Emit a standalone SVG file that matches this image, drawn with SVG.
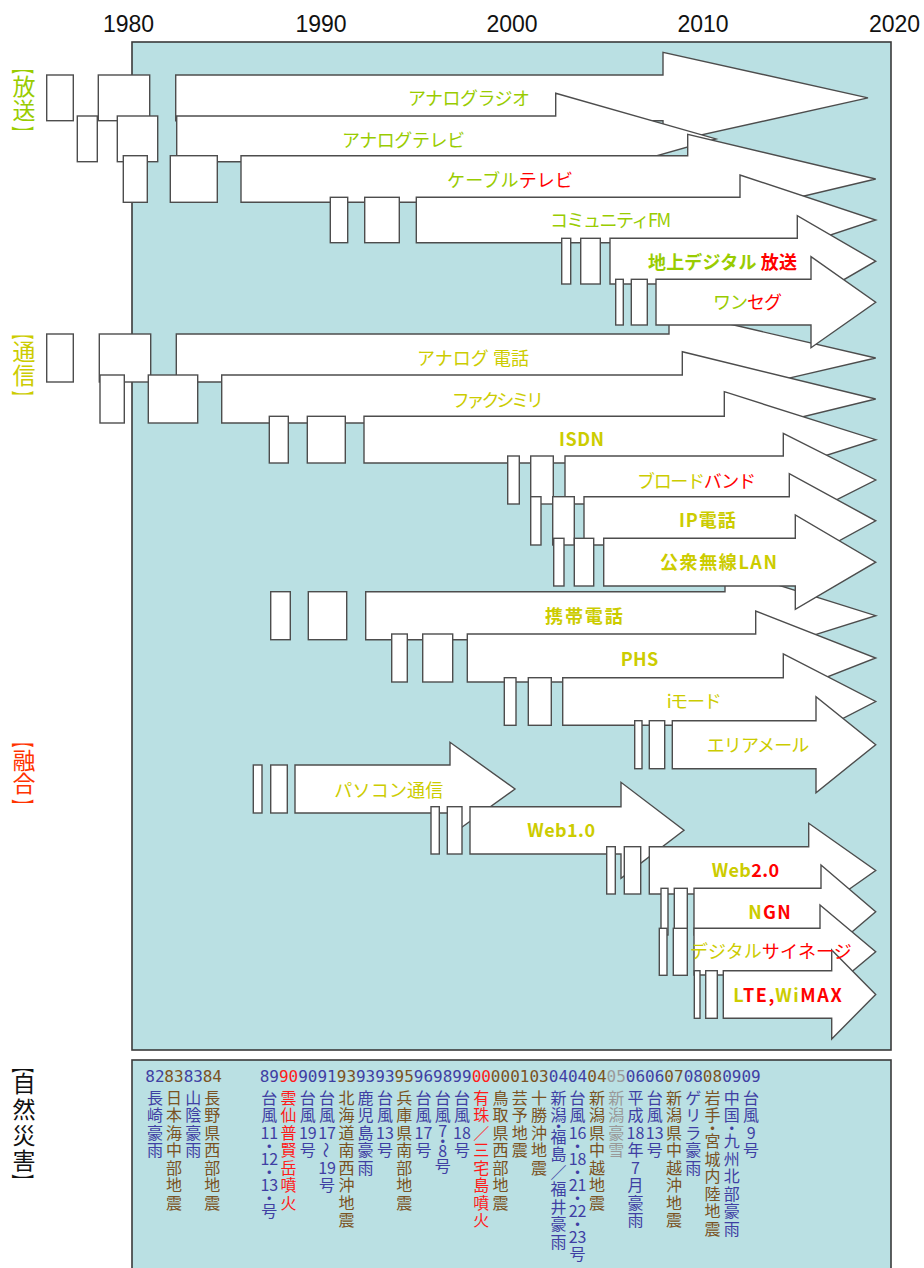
<svg xmlns="http://www.w3.org/2000/svg" width="924" height="1268" viewBox="0 0 924 1268">
<style>
.ar{fill:#fff;stroke:#4d4d4d;stroke-width:1.4}
.pn{fill:#bae0e3;stroke:#3a3a3a;stroke-width:1.6}
.lb{font-family:"Noto Sans CJK JP",sans-serif;font-size:18px}
.bd{font-weight:bold}
.g{fill:#99cc00}.y{fill:#cccc00}.r{fill:#ff0000}.o{fill:#ff3300}.k{fill:#111}
.d{font-family:"Noto Sans CJK JP",sans-serif;font-size:16px;text-anchor:middle}
.rot{font-family:"Noto Sans CJK JP",sans-serif;font-size:16px;text-anchor:middle;dominant-baseline:central}
.cb{fill:#3f3fa3}.cn{fill:#7a5222}.cr{fill:#ff1a1a}.cg{fill:#999999}
.yr{font-family:"DejaVu Sans Mono",monospace;font-size:16px;text-anchor:middle}
.yl{font-family:"Liberation Sans",Arial,sans-serif;font-size:23px;text-anchor:middle;fill:#111}
.vk{font-family:"Noto Sans CJK JP",sans-serif;font-size:23px;text-anchor:middle}
.br{font-family:"Noto Sans CJK JP",sans-serif;font-size:20px;text-anchor:middle;dominant-baseline:central}
</style>
<rect width="924" height="1268" fill="#fff"/>
<g id="years">
<text class="yl" x="128.5" y="32">1980</text>
<text class="yl" x="321" y="32">1990</text>
<text class="yl" x="512" y="32">2000</text>
<text class="yl" x="703" y="32">2010</text>
<text class="yl" x="894.5" y="32">2020</text>
</g>
<rect id="panel-main" class="pn" x="132" y="42" width="759" height="1008"/>
<rect id="panel-disaster" class="pn" x="132" y="1060" width="759" height="220"/>
<g id="section-labels">
<g id="lbl-housou" class="g">
<text class="br" transform="translate(24,68) rotate(90) scale(0.6,1.15)">【</text>
<text class="vk" x="24" y="94.5">放</text>
<text class="vk" x="24" y="118.5">送</text>
<text class="br" transform="translate(24,132) rotate(90) scale(0.6,1.15)">】</text>
</g>
<g id="lbl-tsushin" class="y">
<text class="br" transform="translate(24,333.5) rotate(90) scale(0.6,1.15)">【</text>
<text class="vk" x="24" y="359.5">通</text>
<text class="vk" x="24" y="383.5">信</text>
<text class="br" transform="translate(24,396.5) rotate(90) scale(0.6,1.15)">】</text>
</g>
<g id="lbl-yugo" class="o">
<text class="br" transform="translate(24,741.5) rotate(90) scale(0.6,1.15)">【</text>
<text class="vk" x="24" y="768.5">融</text>
<text class="vk" x="24" y="791.5">合</text>
<text class="br" transform="translate(24,805) rotate(90) scale(0.6,1.15)">】</text>
</g>
<g id="lbl-saigai" class="k">
<text class="br" transform="translate(24,1067) rotate(90) scale(0.6,1.15)">【</text>
<text class="vk" x="24" y="1092">自</text>
<text class="vk" x="24" y="1118">然</text>
<text class="vk" x="24" y="1144">災</text>
<text class="vk" x="24" y="1169">害</text>
<text class="br" transform="translate(24,1180) rotate(90) scale(0.6,1.15)">】</text>
</g>
</g>
<g id="fusion">
<g id="f1"><rect class="ar" x="253.3" y="765" width="8.7" height="48"/><rect class="ar" x="270.7" y="765" width="16.6" height="48"/><polygon class="ar" points="295,765 450,765 450,742.3 515,789 450,835.7 450,813 295,813"/></g>
<g id="f2"><rect class="ar" x="431" y="806.7" width="8.3" height="47.3"/><rect class="ar" x="447.3" y="806.7" width="14.7" height="47.3"/><polygon class="ar" points="470,806.7 621,806.7 621,782.3 684,830.3 621,878.3 621,854 470,854"/></g>
<g id="f3"><rect class="ar" x="606.7" y="846.7" width="8.6" height="47.3"/><rect class="ar" x="624.3" y="846.7" width="16.4" height="47.3"/><polygon class="ar" points="649.3,846.7 808.7,846.7 808.7,823.3 875.7,870.5 808.7,917.7 808.7,894 649.3,894"/></g>
<g id="f4"><rect class="ar" x="661" y="888.3" width="7" height="46.7"/><rect class="ar" x="674.3" y="888.3" width="13" height="46.7"/><polygon class="ar" points="694,888.3 821,888.3 821,865 875.7,911.7 821,958.3 821,935 694,935"/></g>
<g id="f5"><rect class="ar" x="659.3" y="928.3" width="7.7" height="47"/><rect class="ar" x="673.3" y="928.3" width="14" height="47"/><polygon class="ar" points="694,928.3 820,928.3 820,905 875.7,951.7 820,998.3 820,975 694,975"/></g>
<g id="f6"><rect class="ar" x="694.3" y="970.7" width="5.7" height="47.6"/><rect class="ar" x="705.7" y="970.7" width="11.6" height="47.6"/><polygon class="ar" points="723.3,970.7 831.7,970.7 831.7,950 875.7,994.5 831.7,1039 831.7,1018.3 723.3,1018.3"/></g>
</g>
<g id="mobile">
<g id="m1"><rect class="ar" x="270.7" y="591.7" width="19.6" height="48"/><rect class="ar" x="308.3" y="591.7" width="38.4" height="48"/><polygon class="ar" points="365.7,591.7 725,591.7 725,568.3 875.7,615.7 725,663 725,639.7 365.7,639.7"/></g>
<g id="m2"><rect class="ar" x="391.7" y="634" width="15.6" height="48"/><rect class="ar" x="422.7" y="634" width="30" height="48"/><polygon class="ar" points="467.3,634 755.7,634 755.7,611 875.7,658 755.7,705 755.7,682 467.3,682"/></g>
<g id="m3"><rect class="ar" x="504.3" y="677.7" width="11.7" height="47.6"/><rect class="ar" x="528.3" y="677.7" width="23" height="47.6"/><polygon class="ar" points="562.7,677.7 783.3,677.7 783.3,654 875.7,701.5 783.3,749 783.3,725.3 562.7,725.3"/></g>
<g id="m4"><rect class="ar" x="634.7" y="720.7" width="7.3" height="48"/><rect class="ar" x="649.3" y="720.7" width="15.4" height="48"/><polygon class="ar" points="672.3,720.7 816,720.7 816,696.7 875.7,744.7 816,792.7 816,768.7 672.3,768.7"/></g>
</g>
<g id="fixed">
<g id="c1"><rect class="ar" x="46.7" y="334" width="26.6" height="48"/><rect class="ar" x="99.3" y="334" width="51.4" height="48"/><polygon class="ar" points="176.3,334 669,334 669,310 875.7,358 669,406 669,382 176.3,382"/></g>
<g id="c2"><rect class="ar" x="100" y="375" width="24.3" height="48"/><rect class="ar" x="148.3" y="375" width="49.4" height="48"/><polygon class="ar" points="221.7,375 682.3,375 682.3,351.7 875.7,399 682.3,446.3 682.3,423 221.7,423"/></g>
<g id="c3"><rect class="ar" x="269.3" y="416.3" width="19" height="46.7"/><rect class="ar" x="307.3" y="416.3" width="38" height="46.7"/><polygon class="ar" points="364,416.3 724.3,416.3 724.3,391.7 875.7,439.7 724.3,487.7 724.3,463 364,463"/></g>
<g id="c4"><rect class="ar" x="507.7" y="456" width="11.6" height="48"/><rect class="ar" x="530.7" y="456" width="22.6" height="48"/><polygon class="ar" points="565,456 783.3,456 783.3,433.3 875.7,480 783.3,526.7 783.3,504 565,504"/></g>
<g id="c5"><rect class="ar" x="530.7" y="496.7" width="10.3" height="48.3"/><rect class="ar" x="552.7" y="496.7" width="21.6" height="48.3"/><polygon class="ar" points="584,496.7 789.3,496.7 789.3,473.7 875.7,520.8 789.3,568 789.3,545 584,545"/></g>
<g id="c6"><rect class="ar" x="553.7" y="538.3" width="10.3" height="47.7"/><rect class="ar" x="574.3" y="538.3" width="19.4" height="47.7"/><polygon class="ar" points="603.7,538.3 795.3,538.3 795.3,515 875.7,562.2 795.3,609.3 795.3,586 603.7,586"/></g>
</g>
<g id="broadcast">
<g id="b1"><rect class="ar" x="46.7" y="75" width="26.6" height="45.7"/><rect class="ar" x="98.3" y="75" width="51.4" height="45.7"/><polygon class="ar" points="175.7,75 663,75 663,52.3 868,97.9 663,143.5 663,120.7 175.7,120.7"/></g>
<g id="b2"><rect class="ar" x="77.3" y="116" width="20" height="45.7"/><rect class="ar" x="117.3" y="116" width="40.4" height="45.7"/><polygon class="ar" points="176.7,116 555.7,116 555.7,93.3 716,138.9 555.7,184.4 555.7,161.7 176.7,161.7"/></g>
<g id="b3"><rect class="ar" x="123.3" y="155.7" width="24" height="46.6"/><rect class="ar" x="170.3" y="155.7" width="47" height="46.6"/><polygon class="ar" points="241,155.7 687.7,155.7 687.7,134.3 875.7,179 687.7,223.7 687.7,202.3 241,202.3"/></g>
<g id="b4"><rect class="ar" x="330.3" y="197.3" width="17.4" height="45.4"/><rect class="ar" x="364.7" y="197.3" width="34.6" height="45.4"/><polygon class="ar" points="416.3,197.3 740,197.3 740,175 875.7,220 740,265 740,242.7 416.3,242.7"/></g>
<g id="b5"><rect class="ar" x="561.7" y="238.3" width="9" height="45.7"/><rect class="ar" x="580.7" y="238.3" width="19.6" height="45.7"/><polygon class="ar" points="610,238.3 797.3,238.3 797.3,215.7 875.7,261.2 797.3,306.7 797.3,284 610,284"/></g>
<g id="b6"><rect class="ar" x="615.7" y="279.3" width="7.6" height="45.7"/><rect class="ar" x="631.3" y="279.3" width="16" height="45.7"/><polygon class="ar" points="656,279.3 811,279.3 811,256.7 875.7,302.2 811,347.7 811,325 656,325"/></g>
</g>
<g id="labels">
<text class="lb g" x="408" y="104.6" textLength="122">アナログラジオ</text>
<text class="lb g" x="342" y="146.6" textLength="123">アナログテレビ</text>
<text class="lb" x="447" y="186.6" textLength="126"><tspan class="g">ケーブル</tspan><tspan class="r">テレビ</tspan></text>
<text class="lb g" x="550" y="226.6" textLength="121">コミュニティFM</text>
<text class="lb bd" x="648" y="268.6" textLength="149"><tspan class="g">地上デジタル </tspan><tspan class="r">放送</tspan></text>
<text class="lb" x="713" y="309.3" textLength="69"><tspan class="g">ワン</tspan><tspan class="r">セグ</tspan></text>
<text class="lb y" x="417" y="364.6" textLength="112">アナログ 電話</text>
<text class="lb y" x="451.7" y="406.6" textLength="92.3">ファクシミリ</text>
<text class="lb bd y" x="559" y="446.1" textLength="45">ISDN</text>
<text class="lb" x="637" y="487.6" textLength="119"><tspan class="y">ブロード</tspan><tspan class="r">バンド</tspan></text>
<text class="lb bd y" x="679" y="527.3" textLength="56.7">IP電話</text>
<text class="lb bd y" x="660" y="568.9" textLength="117">公衆無線LAN</text>
<text class="lb bd y" x="545" y="623.3" textLength="77.7">携帯電話</text>
<text class="lb bd y" x="620.7" y="665.6" textLength="37.6">PHS</text>
<text class="lb y" x="666.7" y="708.3" textLength="55">iモード</text>
<text class="lb y" x="706.7" y="752.3" textLength="102.6">エリアメール</text>
<text class="lb y" x="334.3" y="796.6" textLength="109">パソコン通信</text>
<text class="lb bd y" x="527.3" y="837.3" textLength="67.7">Web1.0</text>
<text class="lb bd" x="711.7" y="877.3" textLength="67.3"><tspan class="y">Web</tspan><tspan class="r">2.0</tspan></text>
<text class="lb bd" x="748.3" y="918.9" textLength="42.4"><tspan class="y">N</tspan><tspan class="r">GN</tspan></text>
<text class="lb" x="690" y="958.3" textLength="161.7"><tspan class="y">デジタル</tspan><tspan class="r">サイネージ</tspan></text>
<text class="lb bd" x="733.3" y="1001.6" textLength="108.4"><tspan class="y">L</tspan><tspan class="r">TE,</tspan><tspan class="y">Wi</tspan><tspan class="r">MAX</tspan></text>
</g>
<g id="disasters">
<text class="yr" y="1081.5"><tspan class="cb" x="155">82</tspan><tspan class="cn" x="174">83</tspan><tspan class="cb" x="193.3">83</tspan><tspan class="cn" x="212.3">84</tspan><tspan class="cb" x="269.3">89</tspan><tspan class="cr" x="288.6">90</tspan><tspan class="cb" x="307.8">90</tspan><tspan class="cb" x="327.1">91</tspan><tspan class="cn" x="346.4">93</tspan><tspan class="cb" x="365.6">93</tspan><tspan class="cb" x="384.9">93</tspan><tspan class="cn" x="404.2">95</tspan><tspan class="cb" x="423.5">96</tspan><tspan class="cb" x="442.7">98</tspan><tspan class="cb" x="462">99</tspan><tspan class="cr" x="481.3">00</tspan><tspan class="cn" x="500.5">00</tspan><tspan class="cn" x="519.8">01</tspan><tspan class="cn" x="539.1">03</tspan><tspan class="cb" x="558.4">04</tspan><tspan class="cb" x="577.6">04</tspan><tspan class="cn" x="596.9">04</tspan><tspan class="cg" x="616.2">05</tspan><tspan class="cb" x="635.4">06</tspan><tspan class="cb" x="654.7">06</tspan><tspan class="cn" x="674">07</tspan><tspan class="cb" x="693.3">08</tspan><tspan class="cn" x="712.5">08</tspan><tspan class="cb" x="731.8">09</tspan><tspan class="cb" x="751.1">09</tspan></text>
<text class="d cb"><tspan x="155" y="1103.5">長</tspan><tspan x="155" y="1121">崎</tspan><tspan x="155" y="1138.5">豪</tspan><tspan x="155" y="1156">雨</tspan></text>
<text class="d cn"><tspan x="174" y="1103.5">日</tspan><tspan x="174" y="1121">本</tspan><tspan x="174" y="1138.5">海</tspan><tspan x="174" y="1156">中</tspan><tspan x="174" y="1173.5">部</tspan><tspan x="174" y="1191">地</tspan><tspan x="174" y="1208.5">震</tspan></text>
<text class="d cb"><tspan x="193.3" y="1103.5">山</tspan><tspan x="193.3" y="1121">陰</tspan><tspan x="193.3" y="1138.5">豪</tspan><tspan x="193.3" y="1156">雨</tspan></text>
<text class="d cn"><tspan x="212.3" y="1103.5">長</tspan><tspan x="212.3" y="1121">野</tspan><tspan x="212.3" y="1138.5">県</tspan><tspan x="212.3" y="1156">西</tspan><tspan x="212.3" y="1173.5">部</tspan><tspan x="212.3" y="1191">地</tspan><tspan x="212.3" y="1208.5">震</tspan></text>
<text class="d cb"><tspan x="269.3" y="1103.5">台</tspan><tspan x="269.3" y="1121">風</tspan><tspan x="269.3" y="1138.5">11</tspan><tspan x="269.3" y="1151.5">・</tspan><tspan x="269.3" y="1164.5">12</tspan><tspan x="269.3" y="1177.5">・</tspan><tspan x="269.3" y="1190.5">13</tspan><tspan x="269.3" y="1203.5">・</tspan><tspan x="269.3" y="1216.5">号</tspan></text>
<text class="d cr"><tspan x="288.6" y="1103.5">雲</tspan><tspan x="288.6" y="1121">仙</tspan><tspan x="288.6" y="1138.5">普</tspan><tspan x="288.6" y="1156">賢</tspan><tspan x="288.6" y="1173.5">岳</tspan><tspan x="288.6" y="1191">噴</tspan><tspan x="288.6" y="1208.5">火</tspan></text>
<text class="d cb"><tspan x="307.8" y="1103.5">台</tspan><tspan x="307.8" y="1121">風</tspan><tspan x="307.8" y="1138.5">19</tspan><tspan x="307.8" y="1156">号</tspan></text>
<text class="d cb"><tspan x="327.1" y="1103.5">台</tspan><tspan x="327.1" y="1121">風</tspan><tspan x="327.1" y="1138.5">17</tspan><tspan x="327.1" y="1173.5">19</tspan><tspan x="327.1" y="1191">号</tspan></text>
<text class="rot cb" transform="translate(327.1,1150) rotate(90)">〜</text>
<text class="d cn"><tspan x="346.4" y="1103.5">北</tspan><tspan x="346.4" y="1121">海</tspan><tspan x="346.4" y="1138.5">道</tspan><tspan x="346.4" y="1156">南</tspan><tspan x="346.4" y="1173.5">西</tspan><tspan x="346.4" y="1191">沖</tspan><tspan x="346.4" y="1208.5">地</tspan><tspan x="346.4" y="1226">震</tspan></text>
<text class="d cb"><tspan x="365.6" y="1103.5">鹿</tspan><tspan x="365.6" y="1121">児</tspan><tspan x="365.6" y="1138.5">島</tspan><tspan x="365.6" y="1156">豪</tspan><tspan x="365.6" y="1173.5">雨</tspan></text>
<text class="d cb"><tspan x="384.9" y="1103.5">台</tspan><tspan x="384.9" y="1121">風</tspan><tspan x="384.9" y="1138.5">13</tspan><tspan x="384.9" y="1156">号</tspan></text>
<text class="d cn"><tspan x="404.2" y="1103.5">兵</tspan><tspan x="404.2" y="1121">庫</tspan><tspan x="404.2" y="1138.5">県</tspan><tspan x="404.2" y="1156">南</tspan><tspan x="404.2" y="1173.5">部</tspan><tspan x="404.2" y="1191">地</tspan><tspan x="404.2" y="1208.5">震</tspan></text>
<text class="d cb"><tspan x="423.5" y="1103.5">台</tspan><tspan x="423.5" y="1121">風</tspan><tspan x="423.5" y="1138.5">17</tspan><tspan x="423.5" y="1156">号</tspan></text>
<text class="d cb"><tspan x="442.7" y="1103.5">台</tspan><tspan x="442.7" y="1121">風</tspan><tspan x="442.7" y="1137">7</tspan><tspan x="442.7" y="1147">・</tspan><tspan x="442.7" y="1157">8</tspan><tspan x="442.7" y="1172">号</tspan></text>
<text class="d cb"><tspan x="462" y="1103.5">台</tspan><tspan x="462" y="1121">風</tspan><tspan x="462" y="1138.5">18</tspan><tspan x="462" y="1156">号</tspan></text>
<text class="d cr"><tspan x="481.3" y="1103.5">有</tspan><tspan x="481.3" y="1121">珠</tspan><tspan x="481.3" y="1138.5">／</tspan><tspan x="481.3" y="1156">三</tspan><tspan x="481.3" y="1173.5">宅</tspan><tspan x="481.3" y="1191">島</tspan><tspan x="481.3" y="1208.5">噴</tspan><tspan x="481.3" y="1226">火</tspan></text>
<text class="d cn"><tspan x="500.5" y="1103.5">鳥</tspan><tspan x="500.5" y="1121">取</tspan><tspan x="500.5" y="1138.5">県</tspan><tspan x="500.5" y="1156">西</tspan><tspan x="500.5" y="1173.5">部</tspan><tspan x="500.5" y="1191">地</tspan><tspan x="500.5" y="1208.5">震</tspan></text>
<text class="d cn"><tspan x="519.8" y="1103.5">芸</tspan><tspan x="519.8" y="1121">予</tspan><tspan x="519.8" y="1138.5">地</tspan><tspan x="519.8" y="1156">震</tspan></text>
<text class="d cn"><tspan x="539.1" y="1103.5">十</tspan><tspan x="539.1" y="1121">勝</tspan><tspan x="539.1" y="1138.5">沖</tspan><tspan x="539.1" y="1156">地</tspan><tspan x="539.1" y="1173.5">震</tspan></text>
<text class="d cb"><tspan x="558.4" y="1103.5">新</tspan><tspan x="558.4" y="1121">潟</tspan><tspan x="558.4" y="1132">・</tspan><tspan x="558.4" y="1142.5">福</tspan><tspan x="558.4" y="1160">島</tspan><tspan x="558.4" y="1177.5">／</tspan><tspan x="558.4" y="1195">福</tspan><tspan x="558.4" y="1212.5">井</tspan><tspan x="558.4" y="1230">豪</tspan><tspan x="558.4" y="1247.5">雨</tspan></text>
<text class="d cb"><tspan x="577.6" y="1103.5">台</tspan><tspan x="577.6" y="1121">風</tspan><tspan x="577.6" y="1138.5">16</tspan><tspan x="577.6" y="1151.5">・</tspan><tspan x="577.6" y="1164.5">18</tspan><tspan x="577.6" y="1177.5">・</tspan><tspan x="577.6" y="1190.5">21</tspan><tspan x="577.6" y="1203.5">・</tspan><tspan x="577.6" y="1216.5">22</tspan><tspan x="577.6" y="1229.5">・</tspan><tspan x="577.6" y="1242.5">23</tspan><tspan x="577.6" y="1260">号</tspan></text>
<text class="d cn"><tspan x="596.9" y="1103.5">新</tspan><tspan x="596.9" y="1121">潟</tspan><tspan x="596.9" y="1138.5">県</tspan><tspan x="596.9" y="1156">中</tspan><tspan x="596.9" y="1173.5">越</tspan><tspan x="596.9" y="1191">地</tspan><tspan x="596.9" y="1208.5">震</tspan></text>
<text class="d cg"><tspan x="616.2" y="1103.5">新</tspan><tspan x="616.2" y="1121">潟</tspan><tspan x="616.2" y="1138.5">豪</tspan><tspan x="616.2" y="1156">雪</tspan></text>
<text class="d cb"><tspan x="635.4" y="1103.5">平</tspan><tspan x="635.4" y="1121">成</tspan><tspan x="635.4" y="1138.5">18</tspan><tspan x="635.4" y="1156">年</tspan><tspan x="635.4" y="1173.5">7</tspan><tspan x="635.4" y="1191">月</tspan><tspan x="635.4" y="1208.5">豪</tspan><tspan x="635.4" y="1226">雨</tspan></text>
<text class="d cb"><tspan x="654.7" y="1103.5">台</tspan><tspan x="654.7" y="1121">風</tspan><tspan x="654.7" y="1138.5">13</tspan><tspan x="654.7" y="1156">号</tspan></text>
<text class="d cn"><tspan x="674" y="1103.5">新</tspan><tspan x="674" y="1121">潟</tspan><tspan x="674" y="1138.5">県</tspan><tspan x="674" y="1156">中</tspan><tspan x="674" y="1173.5">越</tspan><tspan x="674" y="1191">沖</tspan><tspan x="674" y="1208.5">地</tspan><tspan x="674" y="1226">震</tspan></text>
<text class="d cb"><tspan x="693.3" y="1103.5">ゲ</tspan><tspan x="693.3" y="1121">リ</tspan><tspan x="693.3" y="1138.5">ラ</tspan><tspan x="693.3" y="1156">豪</tspan><tspan x="693.3" y="1173.5">雨</tspan></text>
<text class="d cn"><tspan x="712.5" y="1103.5">岩</tspan><tspan x="712.5" y="1121">手</tspan><tspan x="712.5" y="1134">・</tspan><tspan x="712.5" y="1147">宮</tspan><tspan x="712.5" y="1164.5">城</tspan><tspan x="712.5" y="1182">内</tspan><tspan x="712.5" y="1199.5">陸</tspan><tspan x="712.5" y="1217">地</tspan><tspan x="712.5" y="1234.5">震</tspan></text>
<text class="d cb"><tspan x="731.8" y="1103.5">中</tspan><tspan x="731.8" y="1121">国</tspan><tspan x="731.8" y="1134">・</tspan><tspan x="731.8" y="1147">九</tspan><tspan x="731.8" y="1164.5">州</tspan><tspan x="731.8" y="1182">北</tspan><tspan x="731.8" y="1199.5">部</tspan><tspan x="731.8" y="1217">豪</tspan><tspan x="731.8" y="1234.5">雨</tspan></text>
<text class="d cb"><tspan x="751.1" y="1103.5">台</tspan><tspan x="751.1" y="1121">風</tspan><tspan x="751.1" y="1138.5">9</tspan><tspan x="751.1" y="1156">号</tspan></text>
</g>
</svg>
